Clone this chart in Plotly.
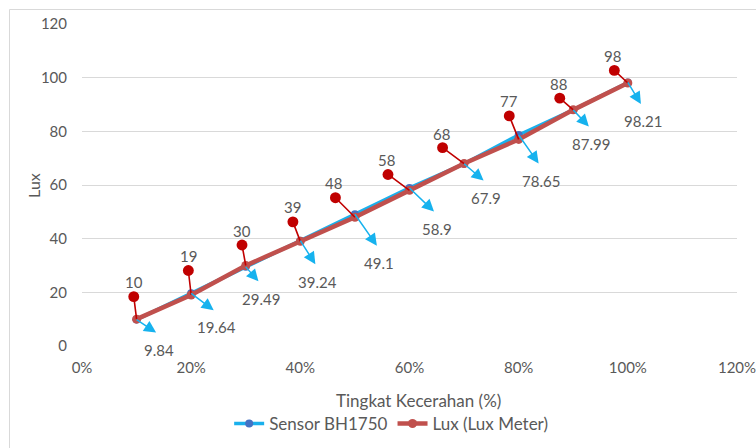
import plotly.graph_objects as go

# Brightness levels (fraction of full scale) and measured illuminance
brightness = [0.1, 0.2, 0.3, 0.4, 0.5, 0.6, 0.7, 0.8, 0.9, 1.0]
sensor_bh1750 = [9.84, 19.64, 29.49, 39.24, 49.1, 58.9, 67.9, 78.65, 87.99, 98.21]
lux_meter = [10, 19, 30, 39, 48, 58, 68, 77, 88, 98]

x_ticks = [0, 0.2, 0.4, 0.6, 0.8, 1.0, 1.2]
y_ticks = [0, 20, 40, 60, 80, 100, 120]

# Callout offsets in screen pixels (dx, dy; +dy is downward)
lux_dot_off = [(-3, -24), (-3, -26), (-4, -22), (-8, -21), (-21, -21),
               (-23, -17), (-23, -17), (-10, -25), (-15, -13), (-15, -14)]
sensor_tip_off = [(21, 14), (24, 18), (14, 16), (16, 25), (23, 33),
                  (26, 25), (21, 18), (21, 30), (17, 18), (14, 23)]
TEXT_GAP = 14

FONT = "Lato, 'Open Sans', sans-serif"
GREY = "#595959"
BLUE_LINE = "#1AB0EC"
BLUE_MARK = "#4472C4"
RED_LINE = "#C0504D"
RED_CALLOUT = "#C00000"
ARROW_BLUE = "#16B2EE"

fig = go.Figure()
fig.add_trace(go.Scatter(
    x=brightness, y=sensor_bh1750, name="Sensor BH1750", mode="lines+markers",
    line=dict(color=BLUE_LINE, width=3.5),
    marker=dict(color=BLUE_MARK, size=8),
))
fig.add_trace(go.Scatter(
    x=brightness, y=lux_meter, name="Lux (Lux Meter)", mode="lines+markers",
    line=dict(color=RED_LINE, width=4.5),
    marker=dict(color=RED_LINE, size=9),
))

annotations = []
for xv, yv, (dx, dy) in zip(brightness, lux_meter, lux_dot_off):
    # leader line ending in a dot
    annotations.append(dict(
        x=xv, y=yv, xref="x", yref="y", text="", showarrow=True,
        ax=dx, ay=dy, arrowside="start", startarrowhead=6, startarrowsize=1.7,
        arrowwidth=1.6, arrowcolor=RED_CALLOUT, startstandoff=0, standoff=0,
    ))
    annotations.append(dict(
        x=xv, y=yv, xref="x", yref="y", text=f"{yv:g}", showarrow=False,
        xshift=dx, yshift=-dy + TEXT_GAP - 1,
        font=dict(family=FONT, size=15, color=GREY),
    ))
for xv, yv, (dx, dy) in zip(brightness, sensor_bh1750, sensor_tip_off):
    annotations.append(dict(
        x=xv, y=yv, xref="x", yref="y", text="", showarrow=True,
        ax=dx, ay=dy, arrowside="start", startarrowhead=2, startarrowsize=1.6,
        arrowwidth=1.5, arrowcolor=ARROW_BLUE, startstandoff=0, standoff=0,
    ))
    annotations.append(dict(
        x=xv, y=yv, xref="x", yref="y", text=f"{yv:g}", showarrow=False,
        xshift=dx + 1, yshift=-dy - TEXT_GAP - 2,
        font=dict(family=FONT, size=15, color=GREY),
    ))

# axis titles
annotations.append(dict(
    x=-0.075, y=0.5, xref="paper", yref="paper", text="Lux", textangle=-90,
    showarrow=False, xanchor="center", yanchor="middle",
    font=dict(family=FONT, size=16, color=GREY),
))
annotations.append(dict(
    x=0.513, y=-0.168, xref="paper", yref="paper", text="Tingkat Kecerahan (%)",
    showarrow=False, xanchor="center", yanchor="middle",
    font=dict(family=FONT, size=17, color=GREY),
))

fig.update_layout(
    width=756, height=448,
    margin=dict(l=82, r=19, t=24, b=102, autoexpand=False),
    paper_bgcolor="white", plot_bgcolor="white",
    font=dict(family=FONT, color=GREY, size=13),
    showlegend=True,
    legend=dict(orientation="h", x=0.472, xanchor="center", y=-0.242,
                yanchor="middle", font=dict(family=FONT, size=17, color=GREY),
                itemwidth=30, tracegroupgap=0),
    annotations=annotations,
    shapes=[dict(type="rect", xref="paper", yref="paper",
                 x0=-0.1107, x1=1.06, y0=-0.36, y1=1.045,
                 line=dict(color="#D9D9D9", width=1), layer="below")],
)
fig.update_xaxes(
    range=[0, 1.2], tickvals=x_ticks, tickformat=".0%", automargin=False,
    ticklabeloverflow="allow",
    showgrid=False, zeroline=False, showline=False,
    tickfont=dict(family=FONT, size=15, color=GREY), ticklabelstandoff=11,
)
fig.update_yaxes(
    range=[0, 120], tickvals=y_ticks, automargin=False,
    showgrid=True, gridcolor="#D9D9D9", gridwidth=1, zeroline=False, showline=False,
    tickfont=dict(family=FONT, size=15, color=GREY), ticklabelstandoff=14,
)

fig.write_html("out.html")
